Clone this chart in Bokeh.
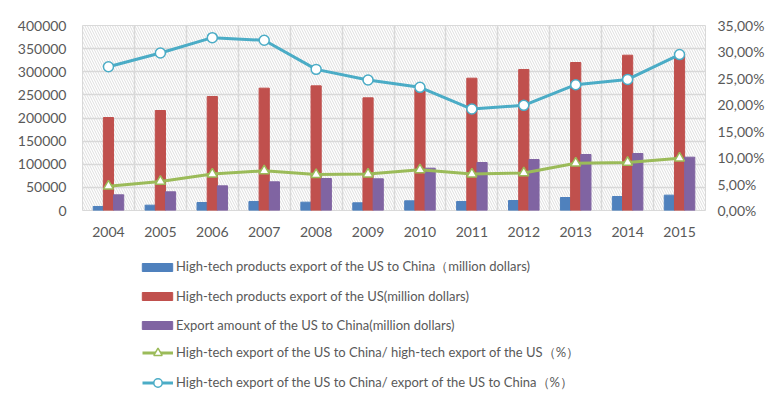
from bokeh.plotting import figure
from bokeh.layouts import column
from bokeh.models import (Range1d, LinearAxis, FixedTicker, SingleIntervalTicker, NumeralTickFormatter,
                          CustomJSTickFormatter, Legend, LegendItem, BoxAnnotation, ColumnDataSource)
from bokeh.transform import dodge
from bokeh.embed import file_html
from bokeh.resources import INLINE

years = [2004, 2005, 2006, 2007, 2008, 2009, 2010, 2011, 2012, 2013, 2014, 2015]
year_labels = [str(y) for y in years]
hitech_us_to_china = [8700, 11500, 17300, 19500, 18000, 16600, 20900, 19500, 21600, 28100, 30300, 33200]
hitech_us = [201000, 216200, 246500, 264500, 269500, 243600, 261600, 286100, 304900, 320000, 335800, 338000]
export_us_to_china = [33900, 40400, 53300, 62000, 69200, 68500, 91500, 103800, 110300, 121100, 123200, 115300]
pct_hitech_share = [4.6, 5.5, 6.9, 7.5, 6.8, 6.9, 7.7, 6.9, 7.1, 8.95, 9.1, 9.9]
pct_china_share = [27.2, 29.8, 32.7, 32.2, 26.7, 24.7, 23.3, 19.2, 19.9, 23.8, 24.8, 29.5]

labels = [
    "High-tech products export of the US to China（million dollars)",
    "High-tech products export of the US(million dollars)",
    "Export amount of the US to China(million dollars)",
    "High-tech export of the US to China/ high-tech export of the US（%）",
    "High-tech export of the US to China/ export of the US to China（%）",
]

FONT = "Lato"
TXT = "#595959"
GRID = "#d9d9d9"
BLUE, RED, PURPLE, GREEN, CYAN = "#4f81bd", "#c0504d", "#8064a2", "#9bbb59", "#4bacc6"

src = ColumnDataSource(dict(year=years, a=hitech_us_to_china, b=hitech_us, c=export_us_to_china,
                            g=pct_hitech_share, h=pct_china_share))

p = figure(width=767, height=245, output_backend="svg", toolbar_location=None,
           x_range=Range1d(years[0] - 0.5, years[-1] + 0.5), y_range=Range1d(0, 400000),
           min_border_left=82, min_border_right=55, min_border_top=25, min_border_bottom=35)
p.extra_y_ranges = {"pct": Range1d(0, 35)}
p.outline_line_color = GRID
p.background_fill_color = "white"
p.border_fill_color = "white"

hatch = BoxAnnotation(fill_alpha=0, line_alpha=0, hatch_pattern="left_diagonal_line",
                      hatch_color="#d6d6d6", hatch_scale=5, hatch_weight=0.8, level="underlay")
p.add_layout(hatch)

bw = 0.196
p.vbar(x=dodge("year", -bw, range=p.x_range), top="a", width=bw, source=src, color=BLUE)
p.vbar(x="year", top="b", width=bw, source=src, color=RED)
p.vbar(x=dodge("year", bw, range=p.x_range), top="c", width=bw, source=src, color=PURPLE)

p.line("year", "g", source=src, color=GREEN, line_width=3, y_range_name="pct")
p.scatter("year", "g", source=src, marker="triangle", size=10, fill_color="white",
          line_color=GREEN, line_width=1.5, y_range_name="pct")
p.line("year", "h", source=src, color=CYAN, line_width=3, y_range_name="pct")
p.scatter("year", "h", source=src, marker="circle", size=10, fill_color="white",
          line_color=CYAN, line_width=1.5, y_range_name="pct")

for ax in [p.xaxis[0], p.yaxis[0]]:
    ax.axis_line_color = None
    ax.major_tick_line_color = None
    ax.minor_tick_line_color = None
    ax.major_label_text_font = FONT
    ax.major_label_text_font_size = "14px"
    ax.major_label_text_color = TXT
p.xaxis.ticker = FixedTicker(ticks=years)
p.xaxis.major_label_overrides = {y: s for y, s in zip(years, year_labels)}
p.xaxis.major_label_standoff = 10
p.yaxis.ticker = SingleIntervalTicker(interval=50000)
p.yaxis.formatter = NumeralTickFormatter(format="0")
p.yaxis.major_label_standoff = 10

rax = LinearAxis(y_range_name="pct", ticker=SingleIntervalTicker(interval=5),
                 formatter=CustomJSTickFormatter(code="return tick.toFixed(2).replace('.', ',') + '%';"))
rax.axis_line_color = None
rax.major_tick_line_color = None
rax.minor_tick_line_color = None
rax.major_label_text_font = FONT
rax.major_label_text_font_size = "14px"
rax.major_label_text_color = TXT
rax.major_label_standoff = 6
p.add_layout(rax, "right")

p.xgrid.ticker = FixedTicker(ticks=[y - 0.5 for y in years] + [years[-1] + 0.5])
p.xgrid.grid_line_color = GRID
p.ygrid.grid_line_color = GRID
p.xgrid.grid_line_width = 1.5
p.ygrid.grid_line_width = 1.5

# legend panel (proxy glyphs placed outside the visible range)
q = figure(width=767, height=148, output_backend="svg", toolbar_location=None,
           x_axis_location=None, y_axis_location=None, min_border=0,
           x_range=Range1d(0, 1), y_range=Range1d(0, 1))
q.outline_line_color = None
q.grid.visible = False
q.border_fill_color = "white"
q.background_fill_color = "white"
px = [-10, -9]
py = [-10, -10]
pA = q.vbar(x=px[:1], top=py[:1], width=1, color=BLUE)
pB = q.vbar(x=px[:1], top=py[:1], width=1, color=RED)
pC = q.vbar(x=px[:1], top=py[:1], width=1, color=PURPLE)
pG1 = q.line(x=px, y=py, color=GREEN, line_width=3)
pG2 = q.scatter(x=px[:1], y=py[:1], marker="triangle", size=10, fill_color="white", line_color=GREEN, line_width=1.5)
pH1 = q.line(x=px, y=py, color=CYAN, line_width=3)
pH2 = q.scatter(x=px[:1], y=py[:1], marker="circle", size=10, fill_color="white", line_color=CYAN, line_width=1.5)

def style_legend(lg):
    lg.background_fill_alpha = 0
    lg.border_line_color = None
    lg.padding = 0
    lg.margin = 0
    lg.label_text_font = FONT
    lg.label_text_font_size = "13px"
    lg.label_text_color = TXT
    lg.glyph_width = 31
    lg.label_standoff = 3
    lg.label_height = 20
    lg.spacing = 9

leg1 = Legend(items=[LegendItem(label=labels[0], renderers=[pA]),
                     LegendItem(label=labels[1], renderers=[pB]),
                     LegendItem(label=labels[2], renderers=[pC])],
              location=(56, 58))
style_legend(leg1)
leg1.glyph_height = 10
leg1.glyph_width = 38
leg1.label_standoff = 0

leg2 = Legend(items=[LegendItem(label=labels[3], renderers=[pG1, pG2]),
                     LegendItem(label=labels[4], renderers=[pH1, pH2])],
              location=(60, 0))
style_legend(leg2)
leg2.glyph_height = 21

q.add_layout(leg1, "center")
q.add_layout(leg2, "center")

layout = column(p, q, spacing=0)
open("out.html", "w").write(file_html(layout, INLINE))
